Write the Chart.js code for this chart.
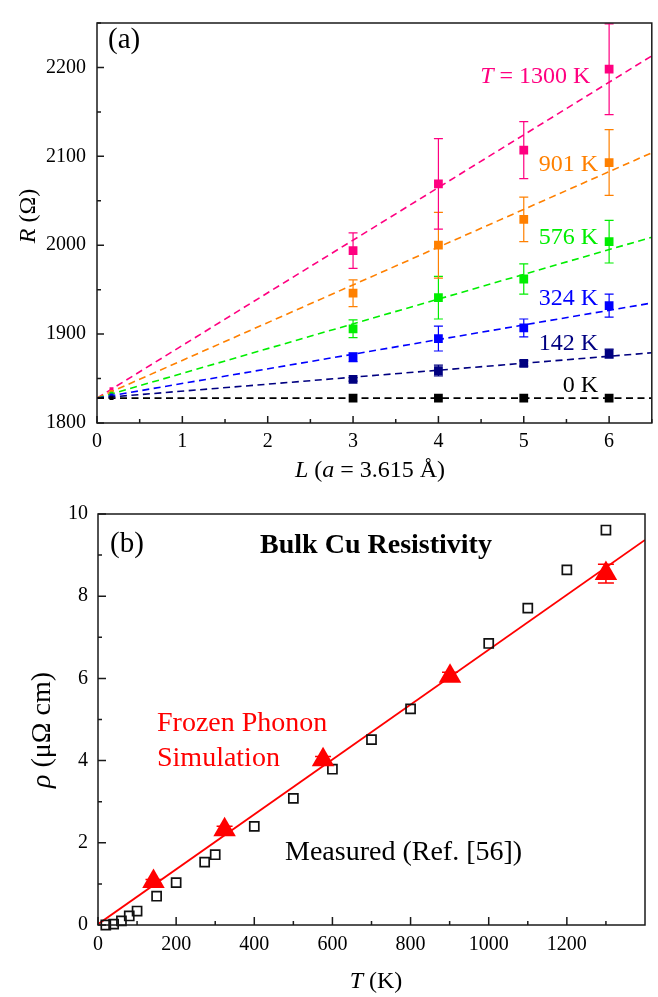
<!DOCTYPE html>
<html>
<head>
<meta charset="utf-8">
<script src="https://cdn.jsdelivr.net/npm/chart.js@4/dist/chart.umd.min.js"></script>
<style>
  html, body { margin: 0; padding: 0; background: #fff; }
  #wrap { position: relative; width: 658px; height: 997px; background: #fff; }
  canvas { position: absolute; left: 0; }
</style>
</head>
<body>
<div id="wrap">
  <canvas id="ca" width="658" height="490" style="top:0;width:658px;height:490px"></canvas>
  <canvas id="cb" width="658" height="507" style="top:490px;width:658px;height:507px"></canvas>
</div>
<script>
// ---------------- Panel (a) data ----------------
const L_VALUES = [3, 4, 5, 6];
const SERIES_LABELS_A = ['0 K', '142 K', '324 K', '576 K', '901 K', '1300 K'];
const R_0K    = [1828, 1828, 1828, 1828];
const R_142K  = [1849, 1859, 1867, 1878];
const R_324K  = [1874, 1895, 1907, 1932];
const R_576K  = [1906, 1941, 1962, 2004];
const R_901K  = [1946, 2000, 2029, 2093];
const R_1300K = [1994, 2069, 2107, 2198];
const ERR_0K    = [0, 0, 0, 0];
const ERR_142K  = [2, 6, 3, 5];
const ERR_324K  = [5, 14, 10, 13];
const ERR_576K  = [10, 24, 17, 24];
const ERR_901K  = [15, 37, 25, 37];
const ERR_1300K = [20, 51, 32, 51];
// small points near the origin
const L_SMALL = [0.17];
const R_SMALL = [[1828], [1829], [1831], [1833], [1835], [1838]];
// dashed linear fits (read at L = 0 and L = 6.5)
const FIT_L = [0, 6.5];
const FIT_0K    = [1828, 1828];
const FIT_142K  = [1828, 1879];
const FIT_324K  = [1828, 1935];
const FIT_576K  = [1828, 2009];
const FIT_901K  = [1828, 2104];
const FIT_1300K = [1828, 2213];
const X_TICKS_A = [0, 1, 2, 3, 4, 5, 6];
const Y_TICKS_A = [1800, 1900, 2000, 2100, 2200];

// ---------------- Panel (b) data ----------------
const T_SIM = [142, 324, 576, 901, 1300];
const RHO_SIM = [1.06, 2.32, 4.02, 6.05, 8.55];
const RHO_SIM_ERR = [0.05, 0.08, 0.08, 0.10, 0.23];
const T_MEAS = [20, 40, 60, 80, 100, 150, 200, 273, 300, 400, 500, 600, 700, 800, 1000, 1100, 1200, 1300];
const RHO_MEAS = [0.00, 0.02, 0.10, 0.22, 0.34, 0.70, 1.03, 1.53, 1.71, 2.40, 3.08, 3.79, 4.51, 5.26, 6.85, 7.71, 8.64, 9.61];
const FIT_T = [0, 1400];
const FIT_RHO = [0.02, 9.37];
const X_TICKS_B = [0, 200, 400, 600, 800, 1000, 1200];
const Y_TICKS_B = [0, 2, 4, 6, 8, 10];

// ---------------- styling ----------------
const FONT = '"Liberation Serif", "Times New Roman", serif';
const COLORS_A = ['#000000', '#000080', '#0000FF', '#00EE00', '#FF8000', '#FF0080'];
const R_SERIES = [R_0K, R_142K, R_324K, R_576K, R_901K, R_1300K];
const ERR_SERIES = [ERR_0K, ERR_142K, ERR_324K, ERR_576K, ERR_901K, ERR_1300K];
const FIT_SERIES = [FIT_0K, FIT_142K, FIT_324K, FIT_576K, FIT_901K, FIT_1300K];

function pts(xs, ys) { return xs.map((x, i) => ({ x: x, y: ys[i] })); }
const plainLabel = v => String(v);

function drawRich(ctx, parts, x, y, align, size, color, rotate) {
  ctx.save();
  ctx.translate(x, y);
  if (rotate) ctx.rotate(-Math.PI / 2);
  ctx.fillStyle = color;
  ctx.textBaseline = 'alphabetic';
  ctx.textAlign = 'left';
  const fonts = parts.map(p => (p.b ? 'bold ' : '') + (p.i ? 'italic ' : '') + size + 'px ' + FONT);
  let w = 0;
  const ws = parts.map((p, k) => { ctx.font = fonts[k]; const m = ctx.measureText(p.t).width; w += m; return m; });
  let cx = align === 'right' ? -w : (align === 'center' ? -w / 2 : 0);
  parts.forEach((p, k) => { ctx.font = fonts[k]; ctx.fillText(p.t, cx, 0); cx += ws[k]; });
  ctx.restore();
}

function rangeStep(a, b, s) { const out = []; for (let v = a; v <= b + 1e-9; v += s) out.push(+v.toFixed(6)); return out; }

function makeFramePlugin(o) {
  return {
    id: o.id,
    beforeDatasetsDraw(chart) {
      const ctx = chart.ctx, xs = chart.scales.x, ys = chart.scales.y;
      ctx.save();
      o.errorBars.forEach(eb => {
        ctx.strokeStyle = eb.color;
        ctx.lineWidth = eb.lw;
        eb.x.forEach((xv, i) => {
          const e = eb.err[i];
          if (!e) return;
          const px = xs.getPixelForValue(xv);
          const t = ys.getPixelForValue(eb.y[i] + e), b = ys.getPixelForValue(eb.y[i] - e);
          ctx.beginPath();
          ctx.moveTo(px, t); ctx.lineTo(px, b);
          ctx.moveTo(px - eb.cap, t); ctx.lineTo(px + eb.cap, t);
          ctx.moveTo(px - eb.cap, b); ctx.lineTo(px + eb.cap, b);
          ctx.stroke();
        });
      });
      ctx.restore();
    },
    afterDraw(chart) {
      const ctx = chart.ctx, a = chart.chartArea, xs = chart.scales.x, ys = chart.scales.y;
      ctx.save();
      ctx.strokeStyle = '#1a1a1a';
      ctx.lineWidth = 1.5;
      ctx.beginPath();
      o.xMajor.forEach(v => { const p = xs.getPixelForValue(v); ctx.moveTo(p, a.bottom); ctx.lineTo(p, a.bottom - o.major); });
      o.xMinor.forEach(v => { const p = xs.getPixelForValue(v); ctx.moveTo(p, a.bottom); ctx.lineTo(p, a.bottom - o.minor); });
      o.yMajor.forEach(v => { const p = ys.getPixelForValue(v); ctx.moveTo(a.left, p); ctx.lineTo(a.left + o.major, p); });
      o.yMinor.forEach(v => { const p = ys.getPixelForValue(v); ctx.moveTo(a.left, p); ctx.lineTo(a.left + o.minor, p); });
      ctx.stroke();
      ctx.strokeRect(a.left, a.top, a.right - a.left, a.bottom - a.top);
      ctx.restore();
      o.texts.forEach(t => {
        let x = t.x, y = t.y;
        if (t.data) { x = xs.getPixelForValue(t.x); y = ys.getPixelForValue(t.y); }
        drawRich(ctx, t.parts, x, y, t.align || 'left', t.size, t.color || '#000', t.rotate);
      });
    }
  };
}

// ---------------- Chart (a) ----------------
const dsA = [];
R_SERIES.forEach((r, k) => {
  dsA.push({ label: SERIES_LABELS_A[k], data: pts(L_VALUES, r), pointStyle: 'rect', pointRadius: 6.2,
    backgroundColor: COLORS_A[k], borderColor: COLORS_A[k], borderWidth: 0, order: 0 });
  dsA.push({ label: SERIES_LABELS_A[k] + ' small', data: pts(L_SMALL, R_SMALL[k]), pointStyle: 'rect', pointRadius: 2.8,
    backgroundColor: COLORS_A[k], borderWidth: 0, order: 0 });
});
FIT_SERIES.forEach((f, k) => {
  dsA.push({ label: SERIES_LABELS_A[k] + ' fit', data: pts(FIT_L, f), showLine: true, pointRadius: 0,
    borderColor: COLORS_A[k], borderWidth: 1.6, borderDash: [7, 4.5], order: 1 });
});

const plugA = makeFramePlugin({
  id: 'frameA', major: 7, minor: 4,
  xMajor: X_TICKS_A, xMinor: rangeStep(0.5, 6.5, 1),
  yMajor: Y_TICKS_A, yMinor: rangeStep(1850, 2250, 100),
  errorBars: R_SERIES.map((r, k) => ({ x: L_VALUES, y: r, err: ERR_SERIES[k], color: COLORS_A[k], lw: 1.2, cap: 4.5 })),
  texts: [
    { parts: [{ t: '(a)' }], x: 108, y: 48, size: 29 },
    { parts: [{ t: 'T', i: true }, { t: ' = 1300 K' }], x: 5.78, y: 2182, data: true, align: 'right', size: 24, color: COLORS_A[5] },
    { parts: [{ t: '901 K' }], x: 5.87, y: 2083, data: true, align: 'right', size: 24, color: COLORS_A[4] },
    { parts: [{ t: '576 K' }], x: 5.87, y: 2001, data: true, align: 'right', size: 24, color: COLORS_A[3] },
    { parts: [{ t: '324 K' }], x: 5.87, y: 1933, data: true, align: 'right', size: 24, color: COLORS_A[2] },
    { parts: [{ t: '142 K' }], x: 5.87, y: 1882, data: true, align: 'right', size: 24, color: COLORS_A[1] },
    { parts: [{ t: '0 K' }], x: 5.87, y: 1835, data: true, align: 'right', size: 24, color: COLORS_A[0] },
    { parts: [{ t: 'R', i: true }, { t: ' (Ω)' }], x: 35, y: 216, align: 'center', size: 24, rotate: true },
    { parts: [{ t: 'L', i: true }, { t: ' (' }, { t: 'a', i: true }, { t: ' = 3.615 Å)' }], x: 370, y: 477, align: 'center', size: 24 }
  ]
});

new Chart(document.getElementById('ca'), {
  type: 'scatter',
  data: { datasets: dsA },
  options: {
    responsive: false, animation: false, events: [],
    layout: { padding: { top: 9, right: 6, left: 0, bottom: 0 } },
    plugins: { legend: { display: false }, tooltip: { enabled: false } },
    scales: {
      x: {
        type: 'linear', min: 0, max: 6.5,
        grid: { display: false, drawTicks: false }, border: { display: false },
        ticks: { font: { family: FONT, size: 20 }, color: '#000', padding: 7, maxRotation: 0, autoSkip: false, callback: plainLabel },
        afterBuildTicks: s => { s.ticks = X_TICKS_A.map(v => ({ value: v })); },
        afterFit: s => { s.height = 67; }
      },
      y: {
        type: 'linear', min: 1800, max: 2250,
        grid: { display: false, drawTicks: false }, border: { display: false },
        ticks: { font: { family: FONT, size: 20 }, color: '#000', padding: 11, autoSkip: false, callback: plainLabel },
        afterBuildTicks: s => { s.ticks = Y_TICKS_A.map(v => ({ value: v })); },
        afterFit: s => { s.width = 97; }
      }
    }
  },
  plugins: [plugA]
});

// ---------------- Chart (b) ----------------
const plugB = makeFramePlugin({
  id: 'frameB', major: 8, minor: 4,
  xMajor: X_TICKS_B, xMinor: rangeStep(100, 1300, 200),
  yMajor: Y_TICKS_B, yMinor: rangeStep(1, 9, 2),
  errorBars: [{ x: T_SIM, y: RHO_SIM, err: RHO_SIM_ERR, color: '#FF0000', lw: 1.5, cap: 8 }],
  texts: [
    { parts: [{ t: '(b)' }], x: 110, y: 62, size: 29 },
    { parts: [{ t: 'Bulk Cu Resistivity', b: true }], x: 376, y: 63, align: 'center', size: 28 },
    { parts: [{ t: 'Frozen Phonon' }], x: 157, y: 241, size: 28, color: '#FF0000' },
    { parts: [{ t: 'Simulation' }], x: 157, y: 276, size: 28, color: '#FF0000' },
    { parts: [{ t: 'Measured (Ref. [56])' }], x: 285, y: 370, size: 28 },
    { parts: [{ t: 'ρ', i: true }, { t: ' (μΩ cm)' }], x: 50, y: 240, align: 'center', size: 28, rotate: true },
    { parts: [{ t: 'T', i: true }, { t: ' (K)' }], x: 376, y: 498, align: 'center', size: 24 }
  ]
});

new Chart(document.getElementById('cb'), {
  type: 'scatter',
  data: {
    datasets: [
      { label: 'Frozen Phonon Simulation', data: pts(T_SIM, RHO_SIM), pointStyle: 'triangle', pointRadius: 13,
        backgroundColor: '#FF0000', borderColor: '#FF0000', borderWidth: 0, order: 0 },
      { label: 'Measured (Ref. [56])', data: pts(T_MEAS, RHO_MEAS), pointStyle: 'rect', pointRadius: 6.4,
        backgroundColor: 'rgba(255,255,255,0)', borderColor: '#111', borderWidth: 1.7, order: 1, clip: false },
      { label: 'fit', data: pts(FIT_T, FIT_RHO), showLine: true, pointRadius: 0,
        borderColor: '#FF0000', borderWidth: 1.8, order: 2 }
    ]
  },
  options: {
    responsive: false, animation: false, events: [],
    layout: { padding: { top: 24, right: 4, left: 0, bottom: 0 } },
    plugins: { legend: { display: false }, tooltip: { enabled: false } },
    scales: {
      x: {
        type: 'linear', min: 0, max: 1400,
        grid: { display: false, drawTicks: false }, border: { display: false },
        ticks: { font: { family: FONT, size: 20 }, color: '#000', padding: 8, maxRotation: 0, autoSkip: false, callback: plainLabel },
        afterBuildTicks: s => { s.ticks = X_TICKS_B.map(v => ({ value: v })); },
        afterFit: s => { s.height = 72; }
      },
      y: {
        type: 'linear', min: 0, max: 10,
        grid: { display: false, drawTicks: false }, border: { display: false },
        ticks: { font: { family: FONT, size: 20 }, color: '#000', padding: 10, autoSkip: false, callback: plainLabel },
        afterBuildTicks: s => { s.ticks = Y_TICKS_B.map(v => ({ value: v })); },
        afterFit: s => { s.width = 98; }
      }
    }
  },
  plugins: [plugB]
});
</script>
</body>
</html>
